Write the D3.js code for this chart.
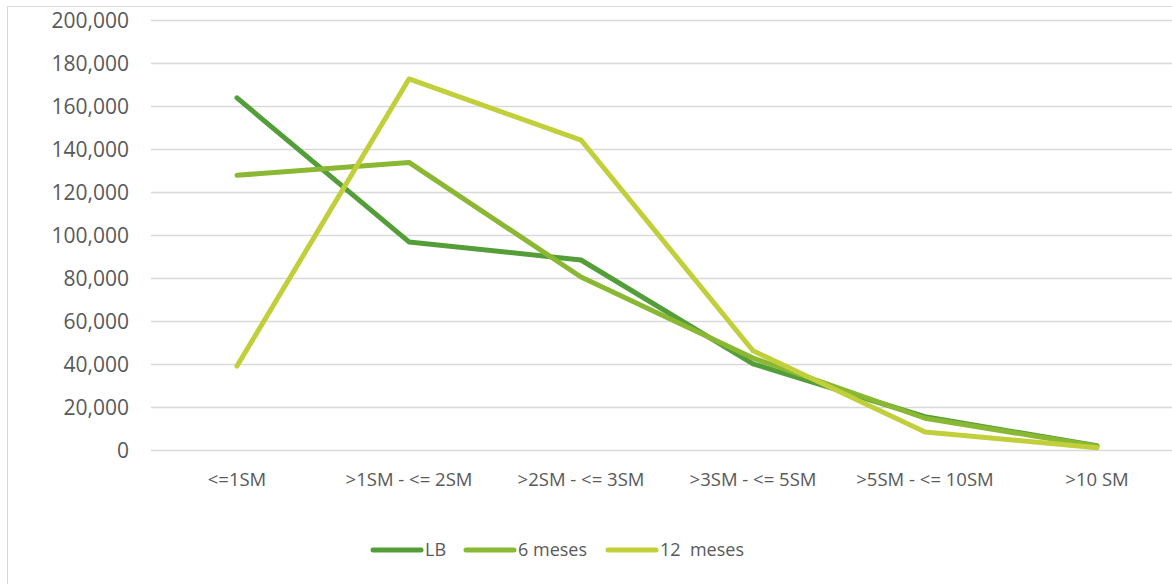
<!DOCTYPE html>
<html><head><meta charset="utf-8">
<script src="https://cdn.jsdelivr.net/npm/d3@7"></script>
<style>body{margin:0;background:#fff;} svg{display:block;}</style>
</head><body>
<script>
const categories = ["<=1SM", ">1SM - <= 2SM", ">2SM - <= 3SM", ">3SM - <= 5SM", ">5SM - <= 10SM", ">10 SM"];
const seriesNames = ["LB", "6 meses", "12  meses"];
const lbValues = [164000, 97000, 88600, 40300, 15700, 2200];
const m6Values = [128000, 134000, 80700, 43000, 15000, 2000];
const m12Values = [39300, 172800, 144400, 46400, 8600, 1300];
const yTicks = [0, 20000, 40000, 60000, 80000, 100000, 120000, 140000, 160000, 180000, 200000];
const colors = ["#549E39", "#8AB833", "#C0CF3A"];

const W = 1172, H = 584;
const svg = d3.select("body").append("svg").attr("width", W).attr("height", H);
const font = "'Open Sans', sans-serif";
svg.append("rect").attr("x", 7.5).attr("y", 6.5).attr("width", 1200).attr("height", 700)
  .attr("fill", "#fff").attr("stroke", "#d9d9d9").attr("stroke-width", 1);

const x = d3.scaleBand().domain(categories).range([151, 1183]);
const y = d3.scaleLinear().domain([0, 200000]).range([450.5, 20.5]);

const grid = svg.append("g");
grid.selectAll("line").data(yTicks).join("line")
  .attr("x1", 151).attr("x2", 1183)
  .attr("y1", d => y(d)).attr("y2", d => y(d))
  .attr("stroke", "#d9d9d9").attr("stroke-width", 1.3);

const fmt = d3.format(",");
const yAxis = d3.axisLeft(y).tickValues(yTicks).tickFormat(fmt).tickSize(0).tickPadding(0);
const yg = svg.append("g").attr("transform", "translate(129,0)").call(yAxis);
yg.select(".domain").remove();
yg.selectAll("text").attr("fill", "#595959").style("font-family", font).style("font-size", "21px");

const xAxis = d3.axisBottom(x).tickSize(0).tickPadding(0);
const xg = svg.append("g").attr("transform", "translate(0,473)").call(xAxis);
xg.select(".domain").remove();
xg.selectAll("text").attr("fill", "#595959").style("font-family", font).style("font-size", "18.5px");

const allSeries = [lbValues, m6Values, m12Values];
const line = d3.line().x((d, i) => x(categories[i]) + x.bandwidth() / 2).y(d => y(d));
svg.append("g").selectAll("path").data(allSeries).join("path")
  .attr("d", d => line(d)).attr("fill", "none")
  .attr("stroke", (d, i) => colors[i]).attr("stroke-width", 5)
  .attr("stroke-linecap", "round").attr("stroke-linejoin", "round");

const legendX = [373, 466, 608];
const lg = svg.append("g");
seriesNames.forEach((n, i) => {
  lg.append("line").attr("x1", legendX[i]).attr("x2", legendX[i] + 48)
    .attr("y1", 550).attr("y2", 550).attr("stroke", colors[i]).attr("stroke-width", 5)
    .attr("stroke-linecap", "round");
  lg.append("text").attr("x", legendX[i] + 52).attr("y", 550).attr("dy", "0.35em")
    .attr("fill", "#595959").style("font-family", font).style("font-size", "18px")
    .style("white-space", "pre").text(n);
});
</script>
</body></html>
